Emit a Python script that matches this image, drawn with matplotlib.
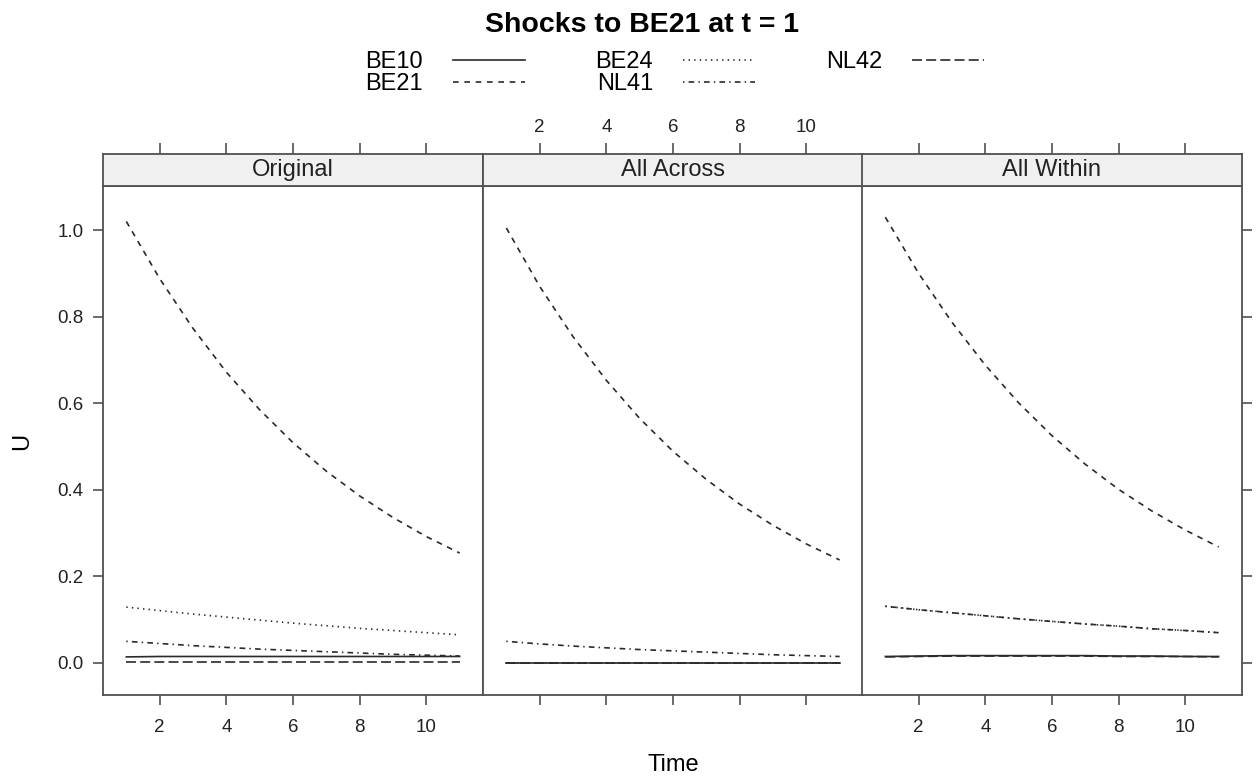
#Importing essential libraries
import matplotlib.pyplot as plt
from matplotlib.lines import Line2D

plt.rcParams['font.family'] = ['Liberation Sans', 'DejaVu Sans']

#Data (response U over time, one list per panel and region)
time = [1, 2, 3, 4, 5, 6, 7, 8, 9, 10, 11]
regions = ['BE10', 'BE21', 'BE24', 'NL41', 'NL42']
panels = ['Original', 'All Across', 'All Within']

orig_be10 = [0.014, 0.015, 0.015, 0.015, 0.015, 0.015, 0.015, 0.015, 0.015, 0.015, 0.015]
orig_be21 = [1.020, 0.888, 0.773, 0.672, 0.585, 0.509, 0.443, 0.386, 0.336, 0.292, 0.254]
orig_be24 = [0.129, 0.121, 0.113, 0.106, 0.099, 0.092, 0.086, 0.080, 0.075, 0.070, 0.065]
orig_nl41 = [0.050, 0.045, 0.040, 0.036, 0.032, 0.029, 0.026, 0.023, 0.020, 0.018, 0.016]
orig_nl42 = [0.003, 0.003, 0.003, 0.003, 0.003, 0.003, 0.003, 0.003, 0.003, 0.003, 0.003]

across_be10 = [0.001, 0.001, 0.001, 0.001, 0.001, 0.001, 0.001, 0.001, 0.001, 0.001, 0.001]
across_be21 = [1.005, 0.870, 0.754, 0.653, 0.565, 0.489, 0.424, 0.367, 0.318, 0.275, 0.238]
across_be24 = [0.000, 0.000, 0.000, 0.000, 0.000, 0.000, 0.000, 0.000, 0.000, 0.000, 0.000]
across_nl41 = [0.050, 0.044, 0.039, 0.035, 0.031, 0.028, 0.025, 0.022, 0.019, 0.017, 0.015]
across_nl42 = [0.000, 0.000, 0.000, 0.000, 0.000, 0.000, 0.000, 0.000, 0.000, 0.000, 0.000]

within_be10 = [0.015, 0.016, 0.017, 0.017, 0.017, 0.017, 0.017, 0.016, 0.016, 0.015, 0.015]
within_be21 = [1.030, 0.900, 0.787, 0.688, 0.601, 0.525, 0.459, 0.401, 0.351, 0.307, 0.268]
within_be24 = [0.131, 0.123, 0.116, 0.109, 0.102, 0.096, 0.090, 0.085, 0.079, 0.075, 0.070]
within_nl41 = [0.131, 0.123, 0.116, 0.109, 0.102, 0.096, 0.090, 0.085, 0.079, 0.075, 0.070]
within_nl42 = [0.014, 0.015, 0.016, 0.016, 0.016, 0.016, 0.016, 0.015, 0.015, 0.015, 0.014]

panelData = [
    [orig_be10, orig_be21, orig_be24, orig_nl41, orig_nl42],
    [across_be10, across_be21, across_be24, across_nl41, across_nl42],
    [within_be10, within_be21, within_be24, within_nl41, within_nl42],
]

#lattice style line types: solid, dashed, dotted, dotdash, longdash
lineStyles = ['-', (0, (3.4, 3.4)), (0, (0.85, 2.5)), (0, (0.85, 2.5, 3.4, 2.5)), (0, (6, 2.5))]
lineColor = '#2a2a2a'
lineWidth = 1.2
frameColor = '#505050'

#Figure in pixels
W, H = 1256, 782
fig = plt.figure(figsize=(W / 100, H / 100), dpi=100)

lefts = [103, 483, 862]
plotTop, plotBottom = 186, 695
stripHeight = 32

for i, name in enumerate(panels):
    ax = fig.add_axes([lefts[i] / W, (H - plotBottom) / H, 380 / W, (plotBottom - plotTop) / H])
    strip = fig.add_axes([lefts[i] / W, (H - plotTop) / H, 380 / W, stripHeight / H])

    for values, style in zip(panelData[i], lineStyles):
        ax.plot(time, values, color=lineColor, linestyle=style, linewidth=lineWidth)

    ax.set_xlim(0.3, 11.7)
    ax.set_ylim(-0.074, 1.102)
    ax.set_xticks([2, 4, 6, 8, 10])
    ax.set_yticks([0.0, 0.2, 0.4, 0.6, 0.8, 1.0])
    ax.set_yticklabels(['0.0', '0.2', '0.4', '0.6', '0.8', '1.0'])

    for spine in ax.spines.values():
        spine.set_color(frameColor)
        spine.set_linewidth(1.3)

    ax.tick_params(axis='x', direction='out', length=7, width=1.2, color=frameColor,
                   pad=10, labelsize=13.5, labelcolor='#222222',
                   bottom=True, labelbottom=(i != 1), top=False, labeltop=False)
    ax.tick_params(axis='y', direction='out', length=7, width=1.2, color=frameColor,
                   pad=7, labelsize=13.5, labelcolor='#222222',
                   left=(i == 0), labelleft=(i == 0), right=(i == 2), labelright=False)

    #strip on top of each panel, carries the top ticks
    strip.set_facecolor('#f0f0f0')
    strip.set_xlim(0.3, 11.7)
    strip.set_ylim(0, 1)
    strip.set_xticks([2, 4, 6, 8, 10])
    strip.set_yticks([])
    for spine in strip.spines.values():
        spine.set_color(frameColor)
        spine.set_linewidth(1.3)
    strip.tick_params(axis='x', direction='out', length=8, width=1.2, color=frameColor,
                      pad=5, labelsize=13.5, labelcolor='#222222',
                      bottom=False, labelbottom=False, top=True, labeltop=(i == 1))
    strip.text(0.5, 0.5, name, transform=strip.transAxes, ha='center', va='center',
               fontsize=17, color='#222222')

#Title and axis labels
fig.text(642 / W, 1 - 32 / H, 'Shocks to BE21 at t = 1', ha='center', va='baseline',
         fontsize=20.5, fontweight='bold')
fig.text(673 / W, 1 - 765 / H, 'Time', ha='center', va='center', fontsize=17)
fig.text(22 / W, 1 - 441 / H, 'U', ha='center', va='center', rotation=90, fontsize=17)

#Legend: text then line sample, three columns
handles = [Line2D([0], [0], color=lineColor, linestyle=s, linewidth=lineWidth) for s in lineStyles]
fig.legend(handles, regions, ncol=3, loc='upper left', bbox_to_anchor=(365 / W, 1 - 51 / H),
           frameon=False, fontsize=17, markerfirst=False, handlelength=3.05,
           handletextpad=1.27, columnspacing=3.0, labelspacing=0.0,
           borderpad=0, borderaxespad=0)

plt.savefig('out.png', dpi=100)
